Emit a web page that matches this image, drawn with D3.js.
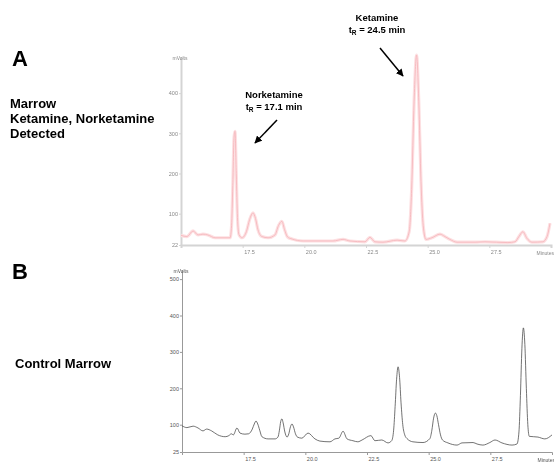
<!DOCTYPE html>
<html>
<head>
<meta charset="utf-8">
<script src="https://cdn.jsdelivr.net/npm/d3@7"></script>
<style>
  body { margin: 0; background: #fff; }
  svg { display: block; font-family: "Liberation Sans", Arial, sans-serif; }
</style>
</head>
<body>
<svg id="chart" width="554" height="464"></svg>
<script>
// --------------------------------------------------------------------------------------------------
// Data (minutes, mVolts)

// A: marrow, ketamine + norketamine detected
const minutesA = [15.0, 15.24, 15.49, 15.69, 15.89, 16.09, 16.38, 16.99, 17.05, 17.1, 17.15, 17.19, 17.24, 17.29, 17.35, 17.47,
  17.65, 17.78, 17.92, 18.02, 18.12, 18.28, 18.53, 18.81, 18.95, 19.09, 19.2, 19.32, 19.5, 19.95, 21.16, 21.57, 21.85, 22.46, 22.66, 22.86,
  23.19, 23.76, 24.08, 24.25, 24.35, 24.45, 24.55, 24.64, 24.73, 24.82, 24.93, 25.17, 25.5, 25.7, 25.9, 26.19, 26.92, 27.32,
  28.25, 28.54, 28.7, 28.86, 29.02, 29.23, 29.67, 29.84, 29.96];
const mvoltsA = [46, 43, 57, 47, 49, 47, 40, 40, 70, 170, 290, 305, 200, 90, 48, 40,
  55, 85, 102, 88, 60, 43, 40, 47, 70, 81, 60, 42, 37, 32, 32, 36, 32, 30, 41, 30,
  29, 34, 32, 55, 160, 380, 495, 380, 180, 70, 36, 40, 49, 43, 36, 29, 29, 30,
  28, 30, 43, 55, 39, 29, 30, 43, 76];

// B: control marrow
const minutesB = [15.0, 15.2, 15.45, 15.65, 15.85, 16.0, 16.2, 16.45, 16.75, 16.9, 17.0, 17.08, 17.23, 17.35,
  17.55, 17.7, 17.85, 17.93, 18.0, 18.07, 18.15, 18.24, 18.49, 18.77, 18.89, 18.95, 19.0, 19.05, 19.1, 19.17, 19.26,
  19.33, 19.4, 19.46, 19.52, 19.6, 19.68, 19.86, 20.11, 20.39, 20.59, 21.0, 21.2, 21.36, 21.53, 21.69, 21.93, 22.13,
  22.3, 22.66, 22.82, 23.1, 23.35, 23.5, 23.58, 23.64, 23.7, 23.76, 23.82, 23.88, 23.95, 24.03, 24.12, 24.36, 24.77,
  25.05, 25.13, 25.2, 25.27, 25.33, 25.4, 25.48, 25.56, 25.78, 26.15, 26.35, 26.8, 26.96, 27.2, 27.48, 27.69, 27.97,
  28.38, 28.58, 28.66, 28.72, 28.78, 28.84, 28.9, 28.96, 29.02, 29.08, 29.43, 29.71, 30.0];
const mvoltsB = [97, 92, 96, 91, 83, 88, 83, 72, 67, 70, 75, 72, 91, 77,
  74, 75, 88, 102, 110, 102, 85, 67, 61, 61, 66, 85, 108, 116, 105, 80, 66,
  75, 95, 102, 94, 75, 66, 63, 77, 61, 55, 53, 61, 63, 82, 61, 56, 53,
  58, 70, 56, 58, 50, 56, 85, 150, 225, 259, 230, 160, 100, 72, 62, 53, 51,
  62, 85, 118, 132, 125, 100, 72, 58, 50, 44, 50, 51, 47, 44, 51, 58, 50,
  44, 47, 80, 180, 310, 366, 320, 200, 100, 68, 66, 61, 72];

const xTicks = [17.5, 20.0, 22.5, 25.0, 27.5];
const yTicksA = [22, 100, 200, 300, 400];
const yTicksB = [25, 100, 200, 300, 400, 500];

// --------------------------------------------------------------------------------------------------

const svg = d3.select("#chart");

const defs = svg.append("defs");
defs.append("filter")
    .attr("id", "soft")
    .append("feGaussianBlur")
    .attr("stdDeviation", 0.55);

defs.append("marker")
    .attr("id", "head")
    .attr("viewBox", "0 0 10 10")
    .attr("refX", 9).attr("refY", 5)
    .attr("markerWidth", 5).attr("markerHeight", 5)
    .attr("markerUnits", "strokeWidth")
    .attr("orient", "auto")
    .append("path")
    .attr("d", "M0,0 L10,5 L0,10 z")
    .attr("fill", "#000");

// scales for each panel
const xA = d3.scaleLinear().domain([15, 30]).range([181, 551]);
const yA = d3.scaleLinear().domain([22, 490]).range([245, 57]);
const xB = d3.scaleLinear().domain([15, 30]).range([182, 552]);
const yB = d3.scaleLinear().domain([25, 525]).range([452, 270]);

function drawPanel(g, x, y, xs, ys, yTicks, opts) {
    const xAxis = g.append("g")
        .attr("transform", `translate(0,${y.range()[0]})`)
        .call(d3.axisBottom(x).tickValues(xTicks).tickFormat(d3.format(".1f")).tickSize(3).tickSizeOuter(3));
    const yAxis = g.append("g")
        .attr("transform", `translate(${x.range()[0]},0)`)
        .call(d3.axisLeft(y).tickValues(yTicks).tickSize(2).tickSizeOuter(0));

    [xAxis, yAxis].forEach(a => {
        a.selectAll("path.domain").attr("stroke", opts.axis).attr("stroke-width", opts.axisWidth);
        a.selectAll(".tick line").attr("stroke", opts.axis);
        a.selectAll("text").attr("fill", opts.tickText).style("font-size", "5.5px");
    });
    xAxis.selectAll("text").attr("text-anchor", "start").attr("dx", 1).attr("y", 5);
    yAxis.selectAll("text").attr("x", -3);

    g.append("text")
        .attr("x", x.range()[0] - 1).attr("y", y.range()[1] + 3)
        .attr("text-anchor", "middle")
        .attr("fill", opts.tickText)
        .style("font-size", "5px")
        .text("mVolts");
    g.append("text")
        .attr("x", x.range()[1] + 3).attr("y", y.range()[0] + 10)
        .attr("text-anchor", "end")
        .attr("fill", opts.tickText)
        .style("font-size", "5px")
        .text("Minutes");

    const line = d3.line()
        .x((d, i) => x(xs[i]))
        .y(d => y(d))
        .curve(d3.curveMonotoneX);

    opts.strokes.forEach(s => {
        g.append("path")
            .datum(ys)
            .attr("fill", "none")
            .attr("stroke", s.color)
            .attr("stroke-width", s.width)
            .attr("stroke-linejoin", "round")
            .attr("d", line);
    });
}

const panelA = svg.append("g").attr("filter", "url(#soft)");
drawPanel(panelA, xA, yA, minutesA, mvoltsA, yTicksA, {
    axis: "#d4d4d4", axisWidth: 2, tickText: "#888",
    strokes: [{ color: "#fde0e2", width: 3.2 }, { color: "#f7bcc1", width: 1 }]
});

const panelB = svg.append("g");
drawPanel(panelB, xB, yB, minutesB, mvoltsB, yTicksB, {
    axis: "#999", axisWidth: 1, tickText: "#555",
    strokes: [{ color: "#444", width: 0.75 }]
});

// --------------------------------------------------------------------------------------------------
// Panel letters and captions

svg.append("text").attr("x", 12).attr("y", 66)
    .style("font-size", "22px").style("font-weight", "bold").text("A");
svg.append("text").attr("x", 12).attr("y", 279)
    .style("font-size", "22px").style("font-weight", "bold").text("B");

const captionA = ["Marrow", "Ketamine, Norketamine", "Detected"];
svg.append("g").selectAll("text")
    .data(captionA)
    .join("text")
    .attr("x", 10)
    .attr("y", (d, i) => 108 + i * 15)
    .style("font-size", "13px").style("font-weight", "bold")
    .text(d => d);

svg.append("text").attr("x", 15).attr("y", 368)
    .style("font-size", "13px").style("font-weight", "bold").text("Control Marrow");

// peak annotations
function annotate(name, tR, cx, cy, from, to) {
    const g = svg.append("g").style("font-size", "9.5px").style("font-weight", "bold");
    g.append("text").attr("x", cx).attr("y", cy).attr("text-anchor", "middle").text(name);
    const t = g.append("text").attr("x", cx).attr("y", cy + 12).attr("text-anchor", "middle");
    t.append("tspan").text("t");
    t.append("tspan").attr("dy", 2).style("font-size", "6.5px").text("R");
    t.append("tspan").attr("dy", -2).text(" = " + tR + " min");
    g.append("line")
        .attr("x1", from[0]).attr("y1", from[1])
        .attr("x2", to[0]).attr("y2", to[1])
        .attr("stroke", "#000").attr("stroke-width", 1.5)
        .attr("marker-end", "url(#head)");
}

annotate("Ketamine", "24.5", 377, 21, [380, 48], [403, 76]);
annotate("Norketamine", "17.1", 274, 98, [277, 120], [255, 143]);
</script>
</body>
</html>
